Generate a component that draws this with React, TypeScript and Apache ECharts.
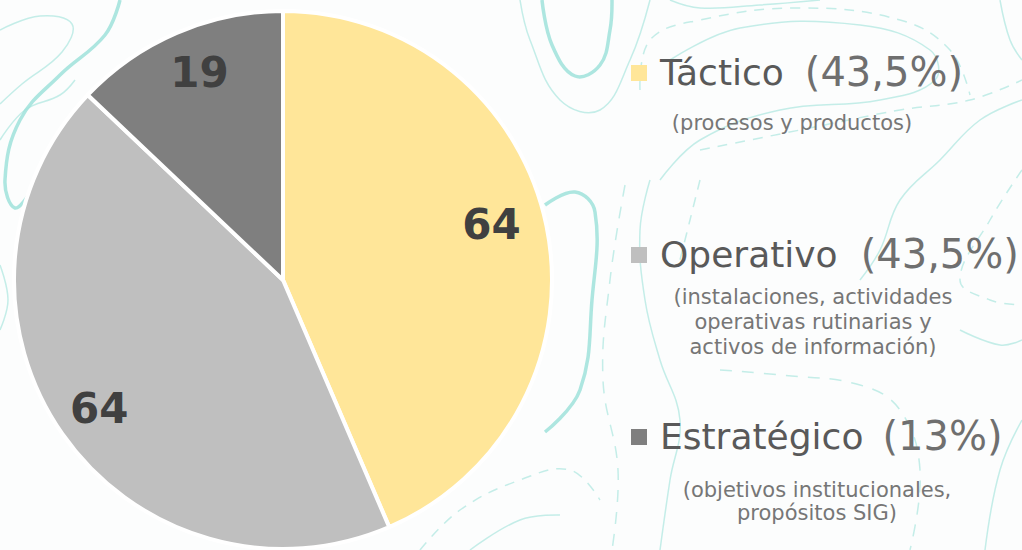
import React, { useEffect, useRef } from "react";
import * as echarts from "echarts";

// ---- data ----
const categories = ["Táctico", "Operativo", "Estratégico"];
const values = [64, 64, 19];
const percentLabels = ["(43,5%)", "(43,5%)", "(13%)"];
const descriptions = [
  ["(procesos y productos)"],
  ["(instalaciones, actividades", "operativas rutinarias y", "activos de información)"],
  ["(objetivos institucionales,", "propósitos SIG)"],
];
const colors = ["#FFE699", "#BFBFBF", "#7F7F7F"];

// ---- layout ----
const FONT = "'DejaVu Sans', Verdana, sans-serif";
const titleY = [72, 254, 436];
const pctGap = [21, 23, 19];
const subX = [792, 813, 817];
const subY0 = [123, 297, 490];
const subLH = [24, 25, 23];
const CYAN = "#9fe2db";

const deco: { pts: number[][]; w: number; dash?: number[] }[] = [
  { pts: [[120, 0], [105, 35], [60, 75], [20, 120], [5, 180], [15, 208], [32, 190]], w: 3.5 },
  { pts: [[0, 30], [40, 16], [72, 24], [62, 52], [22, 84], [0, 104]], w: 1.5 },
  { pts: [[0, 140], [25, 110], [60, 95], [75, 80]], w: 1.5 },
  { pts: [[0, 265], [8, 300], [0, 330]], w: 1.5 },
  { pts: [[542, 0], [552, 45], [575, 76], [600, 65], [610, 30], [612, 0]], w: 3.5 },
  { pts: [[520, 0], [530, 40], [560, 100], [600, 110], [630, 60], [650, 0]], w: 1.5 },
  { pts: [[670, 0], [700, 8], [760, 5], [820, 0]], w: 1.5 },
  { pts: [[640, 90], [650, 40], [700, 20], [800, 8], [900, 20], [950, 50], [970, 95]], w: 1.5, dash: [10, 8] },
  { pts: [[670, 60], [740, 28], [860, 25], [930, 50], [935, 80], [880, 100], [780, 110], [700, 140], [660, 180]], w: 1.5 },
  { pts: [[700, 150], [800, 130], [900, 110], [970, 100], [1022, 80]], w: 1.5, dash: [10, 8] },
  { pts: [[1000, 0], [1010, 40], [1022, 60]], w: 1.5 },
  { pts: [[545, 205], [575, 192], [595, 212], [592, 300], [580, 390], [545, 432]], w: 3.5 },
  { pts: [[625, 185], [610, 280], [603, 380], [618, 470], [612, 550]], w: 1.5, dash: [12, 10] },
  { pts: [[650, 180], [640, 230], [645, 300], [660, 360], [680, 420], [670, 480], [660, 550]], w: 1.5 },
  { pts: [[700, 180], [690, 220], [680, 260]], w: 1.5, dash: [10, 8] },
  { pts: [[720, 370], [780, 375], [860, 385], [900, 410], [920, 470], [910, 550]], w: 1.5, dash: [12, 10] },
  { pts: [[860, 280], [880, 250], [900, 200], [940, 160], [980, 120], [1022, 100]], w: 1.5 },
  { pts: [[1022, 170], [990, 220], [960, 280], [990, 300], [1022, 305]], w: 1.5, dash: [10, 8] },
  { pts: [[960, 330], [1000, 345], [1022, 340]], w: 1.5 },
  { pts: [[1022, 420], [1000, 470], [985, 550]], w: 1.5 },
  { pts: [[420, 550], [460, 510], [520, 480], [570, 470], [600, 500]], w: 1.5, dash: [10, 8] },
  { pts: [[470, 550], [520, 520], [560, 515]], w: 1.5 },
];

export default function App() {
  const ref = useRef<HTMLDivElement>(null);
  useEffect(() => {
    if (!ref.current) return;
    const chart = echarts.init(ref.current, undefined, { renderer: "svg" });

    const graphics: any[] = [];
    deco.forEach((d) => {
      graphics.push({
        type: "polyline",
        silent: true,
        z: -10,
        shape: { points: d.pts, smooth: 0.4 },
        style: {
          stroke: CYAN,
          lineWidth: d.w,
          fill: "none",
          lineDash: d.dash,
          opacity: d.w > 2 ? 0.85 : 0.6,
        },
      });
    });
    categories.forEach((name, i) => {
      graphics.push({
        type: "rect",
        shape: { x: 631, y: titleY[i] - 7, width: 16, height: 16 },
        style: { fill: colors[i] },
      });
      graphics.push({
        type: "text",
        x: 660,
        y: titleY[i],
        style: {
          text: `{n|${name}}{p|${percentLabels[i]}}`,
          verticalAlign: "middle",
          align: "left",
          rich: {
            n: { fontFamily: FONT, fontSize: 36, fill: "#595959" },
            p: {
              fontFamily: FONT,
              fontSize: 40,
              fill: "#6f6f6f",
              padding: [0, 0, 0, pctGap[i]],
            },
          },
        },
      });
      descriptions[i].forEach((line, j) => {
        graphics.push({
          type: "text",
          x: subX[i],
          y: subY0[i] + j * subLH[i],
          style: {
            text: line,
            fontFamily: FONT,
            fontSize: 21,
            fill: "#767676",
            align: "center",
            verticalAlign: "middle",
          },
        });
      });
    });

    const data = categories.map((name, i) => ({
      name,
      value: values[i],
      itemStyle: { color: colors[i] },
    }));

    chart.setOption({
      animation: false,
      backgroundColor: "#fcfdfd",
      graphic: graphics,
      series: [
        {
          type: "pie",
          center: [283, 280],
          radius: [0, 269],
          startAngle: 90,
          clockwise: true,
          silent: true,
          data,
          itemStyle: { borderColor: "#ffffff", borderWidth: 4 },
          label: { show: false },
          labelLine: { show: false },
        },
        {
          type: "pie",
          center: [283, 280],
          radius: [0, 442],
          startAngle: 90,
          clockwise: true,
          silent: true,
          z: 5,
          data: categories.map((name, i) => ({
            name,
            value: values[i],
            label: i === 0 ? { offset: [-11, -10] } : i === 2 ? { offset: [5, -2] } : {},
          })),
          itemStyle: { color: "rgba(0,0,0,0)", borderWidth: 0 },
          label: {
            show: true,
            position: "inside",
            formatter: "{c}",
            fontFamily: FONT,
            fontWeight: "bold",
            fontSize: 42,
            color: "#404040",
          },
          labelLine: { show: false },
        },
      ],
    });
    return () => chart.dispose();
  }, []);
  return (
    <div
      ref={ref}
      style={{ position: "fixed", left: 0, top: 0, width: 1022, height: 550 }}
    />
  );
}
